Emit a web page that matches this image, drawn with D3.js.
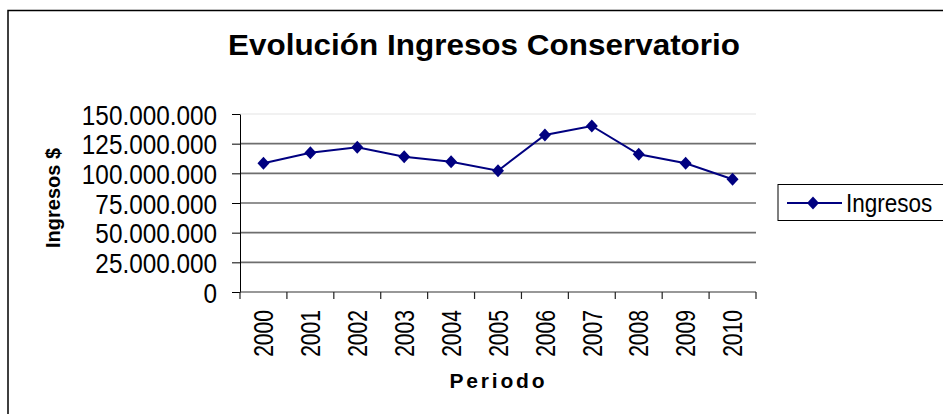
<!DOCTYPE html>
<html lang="es">
<head>
<meta charset="UTF-8" />
<title>Evolución Ingresos Conservatorio</title>
<script src="https://cdn.jsdelivr.net/npm/d3@7"></script>
<style>
  body { margin: 0; background: #fff; }
  text { font-family: "Liberation Sans", Arial, sans-serif; fill: #000; }
  .grid line { stroke: #6e6e6e; stroke-width: 1.6px; }
  .yaxis path, .yaxis line { stroke: #000; }
  .yaxis text { font-size: 27px; }
  .xlab { font-size: 27px; }
</style>
</head>
<body>
<script>
// datos
var years = ["2000", "2001", "2002", "2003", "2004", "2005", "2006", "2007", "2008", "2009", "2010"];
var ingresos = [108.5e6, 117.4e6, 121.9e6, 114.0e6, 109.8e6, 102.2e6, 132.3e6, 139.9e6, 116.0e6, 108.5e6, 95.0e6];
var yTicks = [0, 25e6, 50e6, 75e6, 100e6, 125e6, 150e6];
var seriesName = "Ingresos";

var w = 943, h = 414;
var plotLeft = 240, plotRight = 756, plotTop = 114, plotBottom = 292;

var svg = d3.select("body").append("svg")
  .attr("width", w)
  .attr("height", h);

// marco exterior
svg.append("rect")
  .attr("x", 8).attr("y", 10.5)
  .attr("width", 960).attr("height", 420)
  .attr("fill", "#fff")
  .attr("stroke", "#000")
  .attr("stroke-width", 1.5);

var x = d3.scaleBand().domain(years).range([plotLeft, plotRight]).padding(0);
var y = d3.scaleLinear().domain([0, 150e6]).range([plotBottom, plotTop]);

var es = d3.formatLocale({ decimal: ",", thousands: ".", grouping: [3], currency: ["$", ""] });
var fmt = es.format(",");

// lineas de grilla
svg.append("g").attr("class", "grid")
  .selectAll("line")
  .data(yTicks.filter(function(d) { return d > 0; }))
  .enter().append("line")
  .attr("x1", plotLeft).attr("x2", plotRight)
  .attr("y1", function(d) { return y(d); })
  .attr("y2", function(d) { return y(d); })
  .style("stroke", function(d) { return d === 150e6 ? "#ececec" : null; });

// eje y
var yAxis = d3.axisLeft(y)
  .tickValues(yTicks)
  .tickFormat(fmt)
  .tickSize(8)
  .tickSizeOuter(0)
  .tickPadding(15);

var gy = svg.append("g")
  .attr("class", "yaxis")
  .attr("transform", "translate(" + plotLeft + ",0)")
  .call(yAxis);
gy.selectAll("text").attr("dy", "0.38em");

// eje x
svg.append("line")
  .attr("x1", plotLeft).attr("x2", plotRight)
  .attr("y1", plotBottom).attr("y2", plotBottom)
  .attr("stroke", "#333").attr("stroke-width", 1.2);

var bounds = years.map(function(d) { return x(d); }).concat([x.range()[1]]);
svg.append("g").selectAll("line")
  .data(bounds)
  .enter().append("line")
  .attr("x1", function(d) { return d; })
  .attr("x2", function(d) { return d; })
  .attr("y1", plotBottom).attr("y2", plotBottom + 7)
  .attr("stroke", "#222").attr("stroke-width", 1.2);

svg.append("g").selectAll("text")
  .data(years)
  .enter().append("text")
  .attr("class", "xlab")
  .attr("text-anchor", "end")
  .attr("dy", "0.36em")
  .attr("transform", function(d) {
    return "translate(" + (x(d) + x.bandwidth() / 2) + "," + (plotBottom + 18) + ") rotate(-90)";
  })
  .text(function(d) { return d; });

// linea de la serie
var cx = function(d, i) { return x(years[i]) + x.bandwidth() / 2; };
var line = d3.line()
  .x(cx)
  .y(function(d) { return y(d); });

svg.append("path")
  .datum(ingresos)
  .attr("d", line)
  .attr("fill", "none")
  .attr("stroke", "#000080")
  .attr("stroke-width", 2);

var diamond = "M0,-6.5L6,0L0,6.5L-6,0Z";
svg.append("g").selectAll("path")
  .data(ingresos)
  .enter().append("path")
  .attr("d", diamond)
  .attr("fill", "#000080")
  .attr("transform", function(d, i) { return "translate(" + cx(d, i) + "," + y(d) + ")"; });

// titulos
var title = svg.append("text")
  .attr("x", 484).attr("y", 55)
  .attr("text-anchor", "middle")
  .style("font-size", "29px")
  .style("font-weight", "bold")
  .text("Evolución Ingresos Conservatorio");

svg.append("text")
  .attr("text-anchor", "middle")
  .attr("transform", "translate(60,198) rotate(-90)")
  .style("font-size", "20px")
  .style("font-weight", "bold")
  .text("Ingresos $");

var xt = svg.append("text")
  .attr("x", 497).attr("y", 388)
  .attr("text-anchor", "middle")
  .style("font-size", "21px")
  .style("font-weight", "bold")
  .text("Periodo");

// leyenda
var lg = svg.append("g");
lg.append("rect")
  .attr("x", 778).attr("y", 184.5)
  .attr("width", 200).attr("height", 36)
  .attr("fill", "#fff")
  .attr("stroke", "#000").attr("stroke-width", 1);
lg.append("line")
  .attr("x1", 787).attr("x2", 842)
  .attr("y1", 203).attr("y2", 203)
  .attr("stroke", "#000080").attr("stroke-width", 2);
lg.append("path")
  .attr("d", diamond)
  .attr("fill", "#000080")
  .attr("transform", "translate(813,203)");
var lt = lg.append("text")
  .attr("x", 846).attr("y", 212)
  .style("font-size", "25px")
  .text(seriesName);

// ajustar anchos de texto
function squeeze(sel, k, mode) {
  sel.each(function() {
    var n = this.getComputedTextLength();
    d3.select(this).attr("textLength", n * k).attr("lengthAdjust", mode || "spacingAndGlyphs");
  });
}
squeeze(gy.selectAll("text"), 0.9);
squeeze(svg.selectAll(".xlab"), 0.78);
squeeze(lt, 0.9);
title.attr("textLength", 512).attr("lengthAdjust", "spacingAndGlyphs");
xt.attr("textLength", 95).attr("lengthAdjust", "spacing");
</script>
</body>
</html>
